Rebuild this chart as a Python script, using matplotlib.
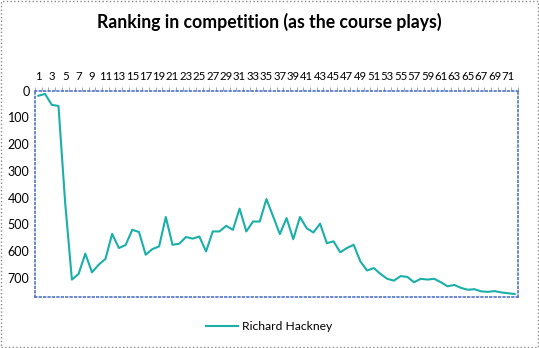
import numpy as np
import matplotlib
matplotlib.use('Agg')
import matplotlib.pyplot as plt
from matplotlib.patches import Rectangle

plt.rcParams['font.family'] = ['Lato', 'DejaVu Sans']

# Ranking after each hole
rank = [19, 12, 53, 57, 420, 706, 685, 609, 679, 650,
        629, 535, 588, 577, 520, 528, 613, 592, 582, 472,
        576, 572, 547, 553, 545, 601, 526, 526, 505, 520,
        441, 526, 489, 489, 405, 470, 536, 476, 555, 472,
        514, 530, 497, 570, 563, 604, 588, 576, 638, 672,
        663, 685, 703, 710, 693, 696, 716, 703, 706, 703,
        716, 731, 726, 737, 744, 742, 750, 752, 749, 754,
        757, 760]
rounds = np.arange(1, len(rank) + 1)
series_name = 'Richard Hackney'
title = 'Ranking in competition (as the course plays)'

line_col = '#1BAFA9'
axis_col = '#4F74C8'

fig = plt.figure(figsize=(5.39, 3.48), dpi=100)
ax = fig.add_axes([35/539, 1-296.7/348, 483/539, (296.7-90.7)/348])

ax.plot(rounds, rank, color=line_col, lw=1.5, label=series_name)

ax.set_xlim(0.5, len(rank) + 0.5)
ax.set_ylim(770, 0)
ax.xaxis.tick_top()
ax.set_xticks(rounds[::2])
ax.set_xticklabels([str(r) for r in rounds[::2]], fontsize=8.2)
ax.set_xticks(np.arange(0.5, len(rank) + 1), minor=True)
ax.tick_params(axis='x', which='major', length=0, pad=6)
ax.tick_params(axis='x', which='minor', length=3, color='#999999', width=0.6)
ax.set_yticks(range(0, 701, 100))
ax.tick_params(axis='y', labelsize=9, length=0, pad=4)

for s in ax.spines.values():
    s.set_color(axis_col)
    s.set_linestyle(':')
    s.set_linewidth(1.2)

fig.text(0.5, 1-22/348, title, ha='center', va='center',
         fontsize=12.7, fontweight='bold')

fig.legend(loc='center', bbox_to_anchor=(0.5, 1-327/348), frameon=False,
           fontsize=8.7, handlelength=2.6, handletextpad=0.4)

fig.patches.append(Rectangle((0.001, 0.002), 0.997, 0.995, transform=fig.transFigure,
                             fill=False, ec='#888888', ls=':', lw=1))

fig.savefig('out.png', dpi=100)
